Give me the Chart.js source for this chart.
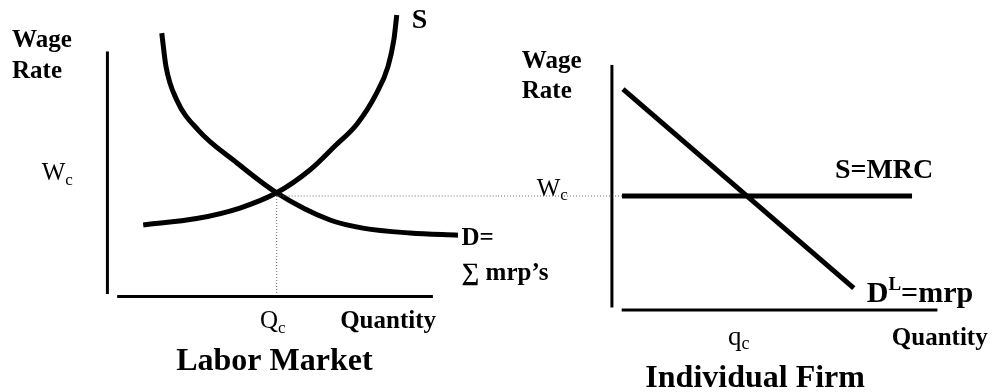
<!DOCTYPE html>
<html>
<head>
<meta charset="utf-8">
<script src="https://cdn.jsdelivr.net/npm/chart.js@4"></script>
<style>
  html, body { margin: 0; padding: 0; background: #fff; }
  #wrap { width: 996px; height: 392px; }
</style>
</head>
<body>
<div id="wrap"><canvas id="labor" width="996" height="392"></canvas></div>
<script>
// labor market curves (quantity, wage)
const supplyQty  = [1.10, 2.74, 4.07, 5.20, 6.22, 6.99, 7.67, 8.27, 8.62, 8.80, 8.89];
const supplyWage = [2.92, 3.18, 3.61, 4.23, 5.16, 6.14, 7.04, 8.30, 9.38, 10.47, 11.49];
const demandQty  = [1.67, 1.80, 2.13, 2.79, 3.98, 5.20, 6.84, 7.85, 9.30, 10.77];
const demandWage = [10.75, 9.38, 8.02, 6.79, 5.45, 4.23, 3.12, 2.79, 2.59, 2.50];

// equilibrium
const marketQc = 5.2;
const marketWc = 4.1;

// individual firm
const firmWc = 4.65;
const mrcQty = [0.31, 9.22];
const mrpQty  = [0.34, 7.43];
const mrpWage = [9.01, 0.89];

// axis extents
const axisQty  = [0.3, 10];
const axisWage = [0.1, 10];

const wageTitle = ["Wage", "Rate"];
const qtyTitle = "Quantity";
const panelTitles = ["Labor Market", "Individual Firm"];

const serif = '"Liberation Serif", "Times New Roman", serif';

function pts(xs, ys) {
    return xs.map((x, i) => ({x: x, y: ys[i]}));
}

function line(data, width, xAxis, yAxis, extra) {
    return Object.assign({
        data: data,
        showLine: true,
        borderColor: "#000",
        borderWidth: width,
        pointRadius: 0,
        pointHoverRadius: 0,
        xAxisID: xAxis,
        yAxisID: yAxis
    }, extra || {});
}

const dotted = {borderColor: "#666", borderDash: [1, 2]};

const datasets = [
    // left panel axes
    line([{x: 0, y: axisWage[0]}, {x: 0, y: axisWage[1]}], 3, "xL", "yL"),
    line([{x: axisQty[0], y: 0}, {x: axisQty[1], y: 0}], 3, "xL", "yL"),
    // right panel axes
    line([{x: 0, y: axisWage[0]}, {x: 0, y: axisWage[1]}], 3, "xR", "yR"),
    line([{x: axisQty[0], y: 0}, {x: axisQty[1], y: 0}], 3, "xR", "yR"),
    // dotted guides
    line([{x: marketQc, y: marketWc}, {x: marketQc, y: 0}], 1, "xL", "yL", dotted),
    line([{x: marketQc, y: marketWc}, {x: 12, y: marketWc}], 1, "xL", "yL", dotted),
    line([{x: -3.5, y: firmWc}, {x: mrcQty[0], y: firmWc}], 1, "xR", "yR", dotted),
    // market curves
    line(pts(supplyQty, supplyWage), 5, "xL", "yL", {cubicInterpolationMode: "monotone"}),
    line(pts(demandQty, demandWage), 5, "xL", "yL", {cubicInterpolationMode: "monotone"}),
    // firm lines
    line(pts(mrcQty, [firmWc, firmWc]), 5, "xR", "yR"),
    line(pts(mrpQty, mrpWage), 5, "xR", "yR")
];

// text placed in each panel's data units
const texts = [
    {ax: "L", x: -2.93, y: 10.19, parts: [[wageTitle[0], "bold 25px"]]},
    {ax: "L", x: -2.93, y: 8.90, parts: [[wageTitle[1], "bold 25px"]]},
    {ax: "L", x: -2.02, y: 4.75, parts: [["W", "25px"], ["c", "17px", 5]]},
    {ax: "L", x: 9.35, y: 10.94, parts: [["S", "bold 28px"]]},
    {ax: "L", x: 10.88, y: 2.10, parts: [["D=", "bold 25px"]]},
    {ax: "L", x: 10.88, y: 0.67, parts: [["\u2211 mrp\u2019s", "bold 25px"]]},
    {ax: "L", x: 4.69, y: -1.30, parts: [["Q", "25px"], ["c", "17px", 5]]},
    {ax: "L", x: 7.15, y: -1.30, parts: [[qtyTitle, "bold 25px"]]},
    {ax: "L", x: 5.13, y: -3.00, center: true, parts: [[panelTitles[0], "bold 32px"]]},

    {ax: "R", x: -2.77, y: 9.86, parts: [[wageTitle[0], "bold 25px"]]},
    {ax: "R", x: -2.77, y: 8.64, parts: [[wageTitle[1], "bold 25px"]]},
    {ax: "R", x: -2.31, y: 4.66, parts: [["W", "25px"], ["c", "17px", 4]]},
    {ax: "R", x: 6.85, y: 5.37, parts: [["S=MRC", "bold 28px"]]},
    {ax: "R", x: 7.83, y: 0.32, parts: [["D", "bold 30px"], ["L", "bold 19px", -12], ["=mrp", "bold 30px"]]},
    {ax: "R", x: 3.57, y: -1.43, parts: [["q", "27px"], ["c", "18px", 4]]},
    {ax: "R", x: 8.60, y: -1.43, parts: [[qtyTitle, "bold 25px"]]},
    {ax: "R", x: 4.40, y: -3.15, center: true, parts: [[panelTitles[1], "bold 32px"]]}
];

const textPlugin = {
    id: "diagramText",
    afterDatasetsDraw(chart) {
        const ctx = chart.ctx;
        ctx.save();
        ctx.fillStyle = "#000";
        ctx.textBaseline = "alphabetic";
        ctx.textAlign = "left";
        texts.forEach(t => {
            let px = chart.scales["x" + t.ax].getPixelForValue(t.x);
            const py = chart.scales["y" + t.ax].getPixelForValue(t.y);
            if (t.center) {
                let w = 0;
                t.parts.forEach(p => { ctx.font = p[1] + " " + serif; w += ctx.measureText(p[0]).width; });
                px -= w / 2;
            }
            t.parts.forEach(p => {
                ctx.font = p[1] + " " + serif;
                ctx.fillText(p[0], px, py + (p[2] || 0));
                px += ctx.measureText(p[0]).width;
            });
        });
        ctx.restore();
    }
};

new Chart(document.getElementById("labor").getContext("2d"), {
    type: "scatter",
    data: {datasets: datasets},
    options: {
        responsive: false,
        animation: false,
        events: [],
        layout: {padding: 0},
        plugins: {legend: {display: false}, tooltip: {enabled: false}},
        scales: {
            xL: {type: "linear", axis: "x", display: false, min: -3.3, max: 27.3},
            yL: {type: "linear", axis: "y", display: false, min: -3.9, max: 12.1},
            xR: {type: "linear", axis: "x", display: false, min: -18.8, max: 11.8},
            yR: {type: "linear", axis: "y", display: false, min: -3.35, max: 12.65}
        }
    },
    plugins: [textPlugin]
});
</script>
</body>
</html>
